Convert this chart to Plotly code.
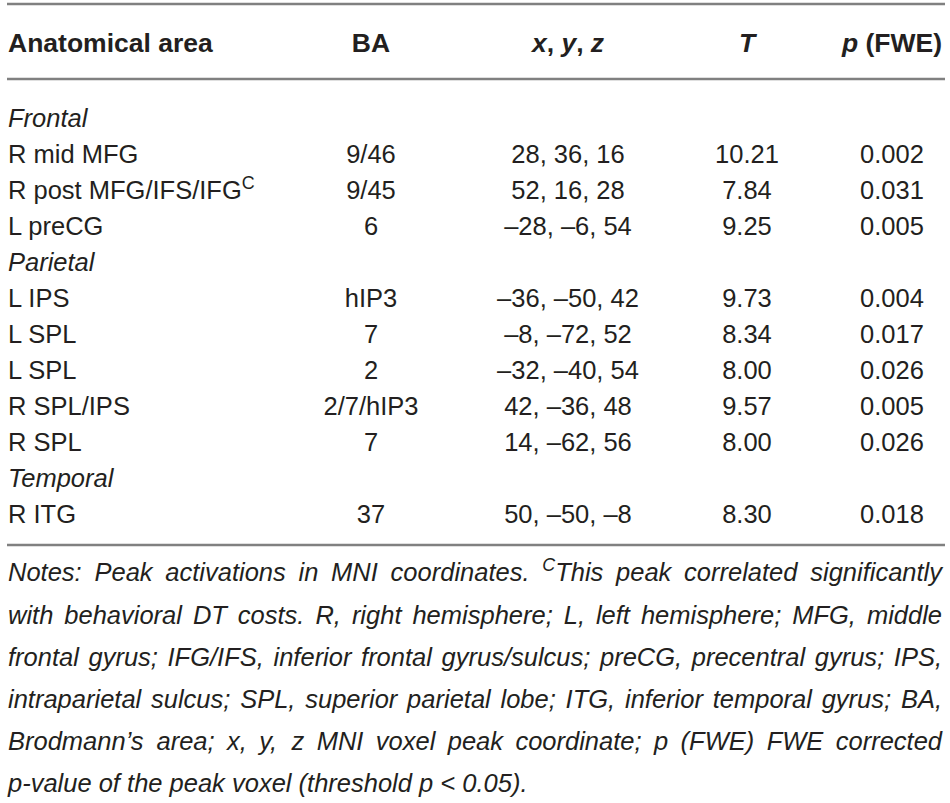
import plotly.graph_objects as go

# table content
headers = ["Anatomical area", "BA", "<i>x</i>, <i>y</i>, <i>z</i>", "<i>T</i>", "<i>p</i> (FWE)"]
areas = ["<i>Frontal</i>", "R mid MFG", "R post MFG/IFS/IFG<sup>C</sup>", "L preCG",
         "<i>Parietal</i>", "L IPS", "L SPL", "L SPL", "R SPL/IPS", "R SPL",
         "<i>Temporal</i>", "R ITG"]
ba = ["", "9/46", "9/45", "6", "", "hIP3", "7", "2", "2/7/hIP3", "7", "", "37"]
coords = ["", "28, 36, 16", "52, 16, 28", "–28, –6, 54", "", "–36, –50, 42",
          "–8, –72, 52", "–32, –40, 54", "42, –36, 48", "14, –62, 56", "", "50, –50, –8"]
t_vals = ["", "10.21", "7.84", "9.25", "", "9.73", "8.34", "8.00", "9.57", "8.00", "", "8.30"]
p_vals = ["", "0.002", "0.031", "0.005", "", "0.004", "0.017", "0.026", "0.005", "0.026", "", "0.018"]

notes_lines = [
    "Notes: Peak activations in MNI coordinates. <sup>C</sup>This peak correlated significantly",
    "with behavioral DT costs. R, right hemisphere; L, left hemisphere; MFG, middle",
    "frontal gyrus; IFG/IFS, inferior frontal gyrus/sulcus; preCG, precentral gyrus; IPS,",
    "intraparietal sulcus; SPL, superior parietal lobe; ITG, inferior temporal gyrus; BA,",
    "Brodmann’s area; x, y, z MNI voxel peak coordinate; p (FWE) FWE corrected",
    "p-value of the peak voxel (threshold p < 0.05).",
]

FONT = "Liberation Sans, Arial, Helvetica, sans-serif"
INK = "#231f20"
RULE = "#808080"
SIZE = 25.5
HEAD_SIZE = 26.5

# layout in pixel units
W, H = 950, 803
left, right = 8, 942
col_x = [left, 371, 568, 747, 892]
header_y = 45
row_y0, row_step = 121, 36
note_y0, note_step = 575, 42.2

# Helvetica/Arial advance widths (per 1000 em) for justifying the notes
widths = dict(zip("abcdefghijklmnopqrstuvwxyz",
                  [556, 556, 500, 556, 556, 278, 556, 556, 222, 222, 500, 222, 833,
                   556, 556, 556, 556, 333, 500, 278, 556, 500, 722, 500, 500, 500]))
widths.update(dict(zip("ABCDEFGHIJKLMNOPQRSTUVWXYZ",
                       [667, 667, 722, 722, 667, 611, 778, 722, 278, 500, 667, 556, 833,
                        722, 778, 667, 778, 722, 667, 611, 722, 667, 944, 667, 667, 611])))
widths.update({c: 556 for c in "0123456789"})
widths.update({" ": 278, ",": 278, ".": 278, ";": 278, ":": 278, "/": 278,
               "(": 333, ")": 333, "-": 333, "’": 222, "<": 584})


def word_width(w):
    total = 0.0
    if w.startswith("<sup>"):
        sup = w[5:w.index("</sup>")]
        total += sum(widths.get(c, 556) for c in sup) * 0.7
        w = w[w.index("</sup>") + 6:]
    total += sum(widths.get(c, 556) for c in w)
    return total * SIZE / 1000.0


fig = go.Figure()

# header
fig.add_trace(go.Scatter(
    x=col_x, y=[header_y] * len(headers), mode="text",
    text=["<b>%s</b>" % h for h in headers],
    textposition=["middle right"] + ["middle center"] * 4,
    textfont=dict(family=FONT, size=HEAD_SIZE, color=INK),
    hoverinfo="skip", showlegend=False))

# body columns (skip the blank cells of the section rows)
rows_y = [row_y0 + row_step * i for i in range(len(areas))]
for j, col in enumerate([areas, ba, coords, t_vals, p_vals]):
    keep = [i for i, v in enumerate(col) if v]
    fig.add_trace(go.Scatter(
        x=[col_x[j]] * len(keep), y=[rows_y[i] for i in keep],
        text=[col[i] for i in keep], mode="text",
        textposition="middle right" if j == 0 else "middle center",
        textfont=dict(family=FONT, size=SIZE, color=INK),
        hoverinfo="skip", showlegend=False))

# notes, justified word by word
nx, ny, nt = [], [], []
for k, line in enumerate(notes_lines):
    words = line.split(" ")
    ws = [word_width(w) for w in words]
    if k < len(notes_lines) - 1:
        gap = (right - left - sum(ws)) / (len(words) - 1)
    else:
        gap = widths[" "] * SIZE / 1000.0
    x = left
    for w, wd in zip(words, ws):
        nx.append(x)
        ny.append(note_y0 + note_step * k)
        nt.append("<i>%s</i>" % w)
        x += wd + gap
fig.add_trace(go.Scatter(
    x=nx, y=ny, mode="text", text=nt, textposition="middle right",
    textfont=dict(family=FONT, size=SIZE, color=INK),
    hoverinfo="skip", showlegend=False))

# horizontal rules
for yr in [4, 79, 545]:
    fig.add_shape(type="line", xref="x", yref="y", x0=7, x1=945, y0=yr, y1=yr,
                  line=dict(color=RULE, width=2.5))

fig.update_layout(
    width=W, height=H, margin=dict(l=0, r=0, t=0, b=0),
    paper_bgcolor="white", plot_bgcolor="white",
    xaxis=dict(range=[0, W], visible=False, fixedrange=True),
    yaxis=dict(range=[H, 0], visible=False, fixedrange=True),
)
# drop the default body margin so the figure sits at the page corner
fig.write_html("out.html", config={"displayModeBar": False},
               post_script="document.body.style.margin='0px';")
